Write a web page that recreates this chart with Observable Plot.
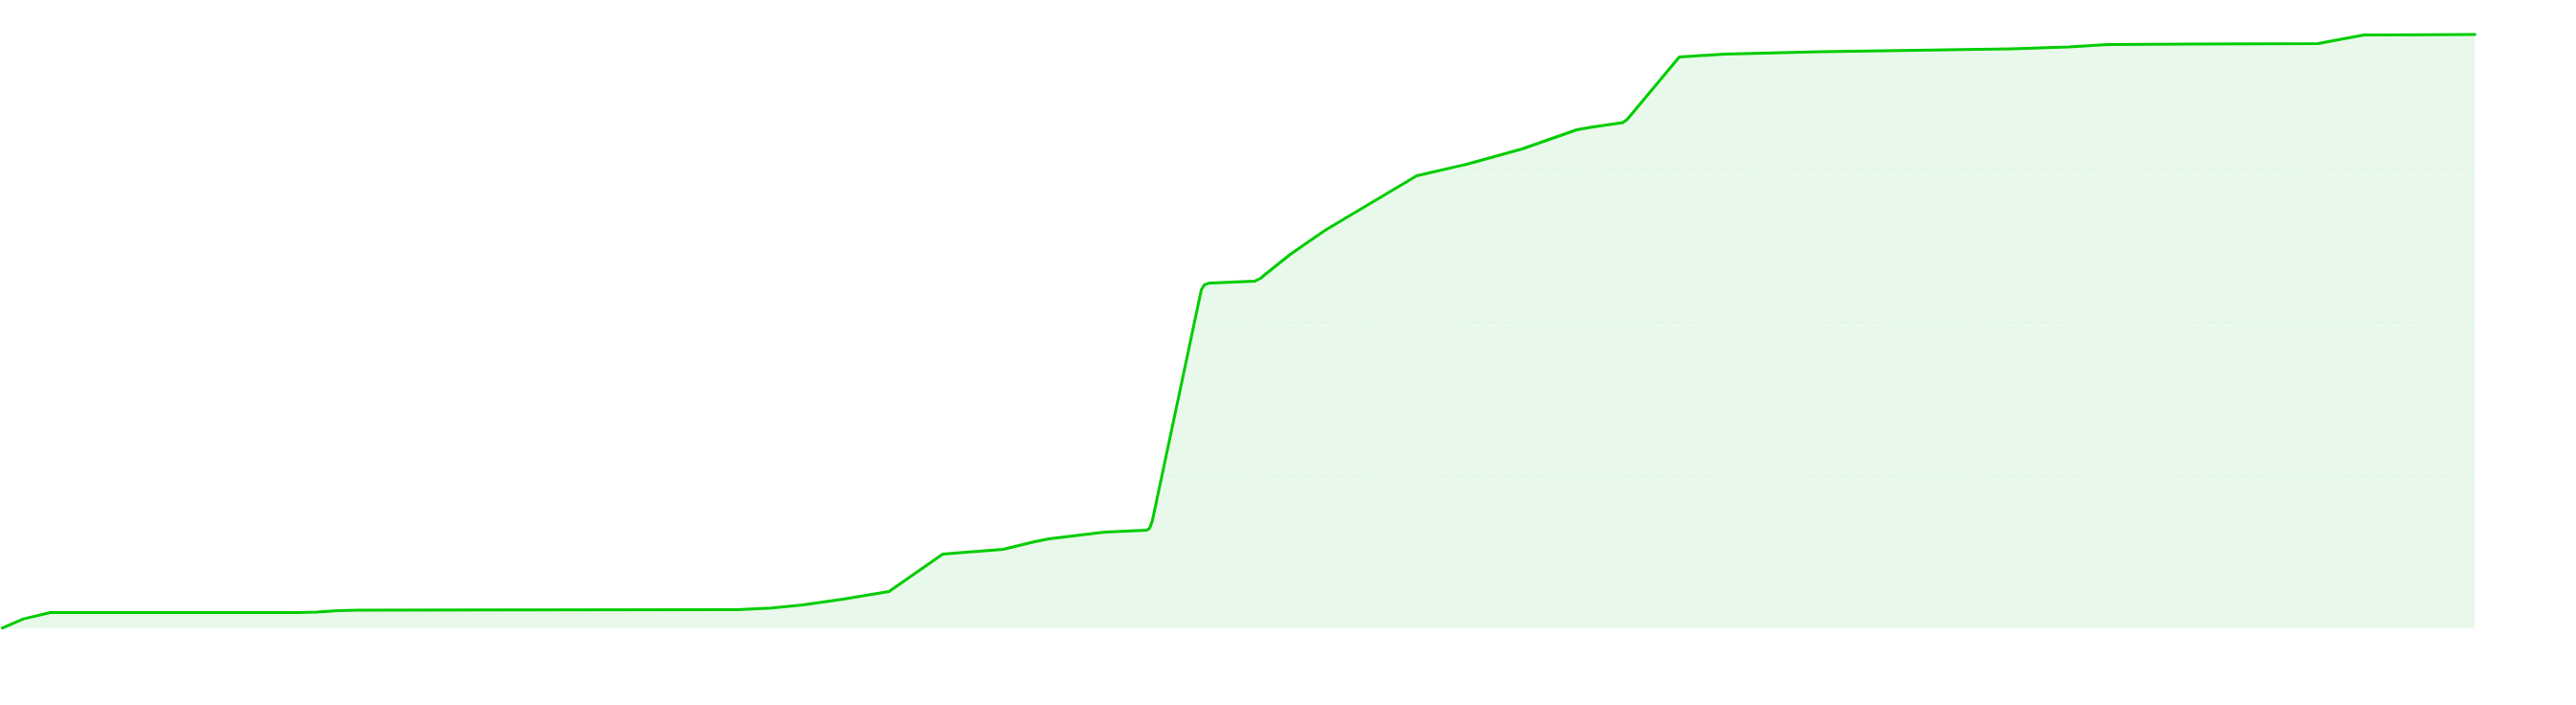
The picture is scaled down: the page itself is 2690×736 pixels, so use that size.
<!DOCTYPE html>
<html>
<head>
<meta charset="utf-8">
<script src="https://cdn.jsdelivr.net/npm/d3@7"></script>
<script src="https://cdn.jsdelivr.net/npm/@observablehq/plot@0.6"></script>
<style>
  html, body { margin: 0; padding: 0; background: #ffffff; }
  #chart svg { display: block; background: #ffffff; }
</style>
</head>
<body>
<div id="chart"></div>
<script>
// Progress position (0–1000) and cumulative value
const xValues = [
  0, 8.5, 19.4, 119.3, 127.0, 135.6, 143.7, 297.1, 311.0, 323.8, 340.0, 358.6,
  380.3, 404.7, 417.5, 423.3, 445.8, 462.8, 464.0, 465.1, 484.9, 486.1, 488.0,
  506.6, 508.9, 511.2, 520.9, 534.9, 572.0, 592.2, 614.6, 636.7, 642.1, 655.3,
  657.2, 678.2, 696.4, 735.1, 812.5, 835.8, 851.3, 936.5, 955.1, 1000
];
const yValues = [
  0.5, 6.5, 10.6, 10.6, 10.9, 11.9, 12.2, 12.5, 13.6, 15.6, 19.4, 24.4,
  48.75, 51.9, 56.9, 58.75, 63.1, 64.4, 65.6, 70.6, 221.25, 224.4, 225.6,
  226.9, 228.75, 231.9, 244.4, 260, 295.6, 303.1, 313.1, 325.6, 327.2, 330.3,
  332.5, 373.1, 375, 376.6, 378.4, 379.7, 381.25, 381.9, 387.5, 387.8
];
const gridValues = [100, 200, 300];

const data = xValues.map((x, i) => ({x, y: yValues[i]}));

const plot = Plot.plot({
  width: 2690,
  height: 736,
  marginLeft: 2,
  marginRight: 106,
  marginTop: 16,
  marginBottom: 80,
  style: {background: "#ffffff"},
  x: {domain: [0, 1000], axis: null},
  y: {domain: [0, 400], axis: null},
  marks: [
    Plot.areaY(data, {x: "x", y: "y", fill: "#e8f8ea", curve: "linear"}),
    Plot.ruleY(gridValues, {stroke: "#dcf6e8", strokeWidth: 1.5, strokeDasharray: "8,8"}),
    Plot.lineY(data, {x: "x", y: "y", stroke: "#00cc00", strokeWidth: 3, curve: "linear"})
  ]
});

// clip the dashed gridlines to the filled area, as in the reference
const areaPath = plot.querySelector('g[aria-label="area"] path');
const ruleGroup = plot.querySelector('g[aria-label="rule"]');
if (areaPath && ruleGroup) {
  const ns = "http://www.w3.org/2000/svg";
  const defs = document.createElementNS(ns, "defs");
  const clip = document.createElementNS(ns, "clipPath");
  clip.setAttribute("id", "area-clip");
  const p = document.createElementNS(ns, "path");
  p.setAttribute("d", areaPath.getAttribute("d"));
  clip.appendChild(p);
  defs.appendChild(clip);
  plot.insertBefore(defs, plot.firstChild);
  ruleGroup.setAttribute("clip-path", "url(#area-clip)");
}

document.getElementById("chart").appendChild(plot);
</script>
</body>
</html>
